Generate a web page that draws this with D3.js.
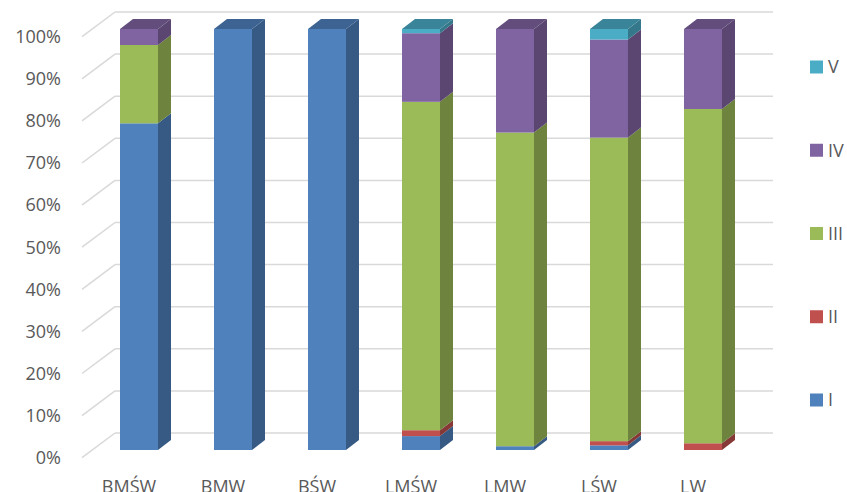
<!DOCTYPE html>
<html><head><meta charset="utf-8">
<script src="https://cdn.jsdelivr.net/npm/d3@7"></script>
<style>
html,body{margin:0;padding:0;background:#fff;}
svg{display:block;font-family:"Open Sans","Noto Sans",sans-serif;}
</style></head>
<body><svg id="c" width="847" height="492"></svg>
<script>
const categories = ["BMŚW","BMW","BŚW","LMŚW","LMW","LŚW","LW"];
const seriesNames = ["I","II","III","IV","V"];
const sI   = [77.6,100,100, 3.3, 0.9, 1.1, 0];
const sII  = [0,    0,  0,  1.4, 0,   1.0, 1.6];
const sIII = [18.6, 0,  0, 78.0,74.5,72.1,79.4];
const sIV  = [3.8,  0,  0, 16.3,24.6,23.3,19.0];
const sV   = [0,    0,  0,  1.0, 0,   2.5, 0];
const tickLabels = ["0%","10%","20%","30%","40%","50%","60%","70%","80%","90%","100%"];
const colors = ["#4F81BD","#C0504D","#9BBB59","#8064A2","#4BACC6"];

const svg = d3.select("#c");
const seriesVals = [sI,sII,sIII,sIV,sV];
const data = categories.map((c,i)=>{const o={cat:c}; seriesNames.forEach((s,k)=>o[s]=seriesVals[k][i]/100); return o;});
const stack = d3.stack().keys(seriesNames)(data);

const x = d3.scaleBand().domain(categories).range([92,750]).paddingInner(0.5957).paddingOuter(0.2979);
const y = d3.scaleLinear().domain([0,1]).range([450,29]);
// depth offsets
const fdx = -10.5, fdy = 7.7;    // front edge (floor front) relative to bar front
const bdx = 13, bdy = -10;       // bar depth
const wdx = 22.5, wdy = -17;     // back wall relative to bar front

const grid = svg.append("g");
tickLabels.forEach((t,i)=>{
  const v = i/10;
  const yb = y(v)+wdy;
  const xb = 115;
  grid.append("line").attr("x1",xb).attr("x2",773).attr("y1",yb).attr("y2",yb)
    .attr("stroke","#d9d9d9").attr("stroke-width",1.5);
  grid.append("line").attr("x1",82).attr("y1",y(v)+fdy).attr("x2",xb).attr("y2",yb)
    .attr("stroke","#d9d9d9").attr("stroke-width",1.5);
  grid.append("text").attr("x",61).attr("y",y(v)+fdy).attr("dy","0.35em")
    .attr("text-anchor","end").attr("font-size",18).attr("fill","#595959").text(t);
});

const bars = svg.append("g");
categories.forEach((c,ci)=>{
  const x0 = x(c), w = x.bandwidth();
  let topIdx = -1;
  stack.forEach((s,k)=>{ if (s[ci][1]-s[ci][0] > 0) topIdx = k; });
  stack.forEach((s,k)=>{
    const d = s[ci];
    if (d[1]-d[0] <= 0) return;
    const col = d3.color(colors[k]);
    const y0 = y(d[0]), y1 = y(d[1]);
    const g = bars.append("g");
    g.append("rect").attr("x",x0).attr("y",y1).attr("width",w).attr("height",y0-y1).attr("fill",col.formatHex());
    g.append("path").attr("d",`M${x0+w},${y1}L${x0+w+bdx},${y1+bdy}L${x0+w+bdx},${y0+bdy}L${x0+w},${y0}Z`)
      .attr("fill",col.darker(1).formatHex());
    if (k===topIdx){
      g.append("path").attr("d",`M${x0},${y1}L${x0+bdx},${y1+bdy}L${x0+w+bdx},${y1+bdy}L${x0+w},${y1}Z`)
        .attr("fill",col.darker(0.75).formatHex());
    }
  });
  svg.append("text").attr("x",x0+w/2-10).attr("y",493).attr("text-anchor","middle")
    .attr("font-size",18).attr("fill","#595959").text(c);
});

const leg = svg.append("g");
const legY = d3.scalePoint().domain(seriesNames.slice().reverse()).range([67,400]);
seriesNames.forEach((s,k)=>{
  const cy = legY(s);
  leg.append("rect").attr("x",810).attr("y",cy-6.5).attr("width",13).attr("height",13).attr("fill",colors[k]);
  leg.append("text").attr("x",828).attr("y",cy).attr("dy","0.35em").attr("font-size",18).attr("fill","#595959").text(s);
});
</script></body></html>
